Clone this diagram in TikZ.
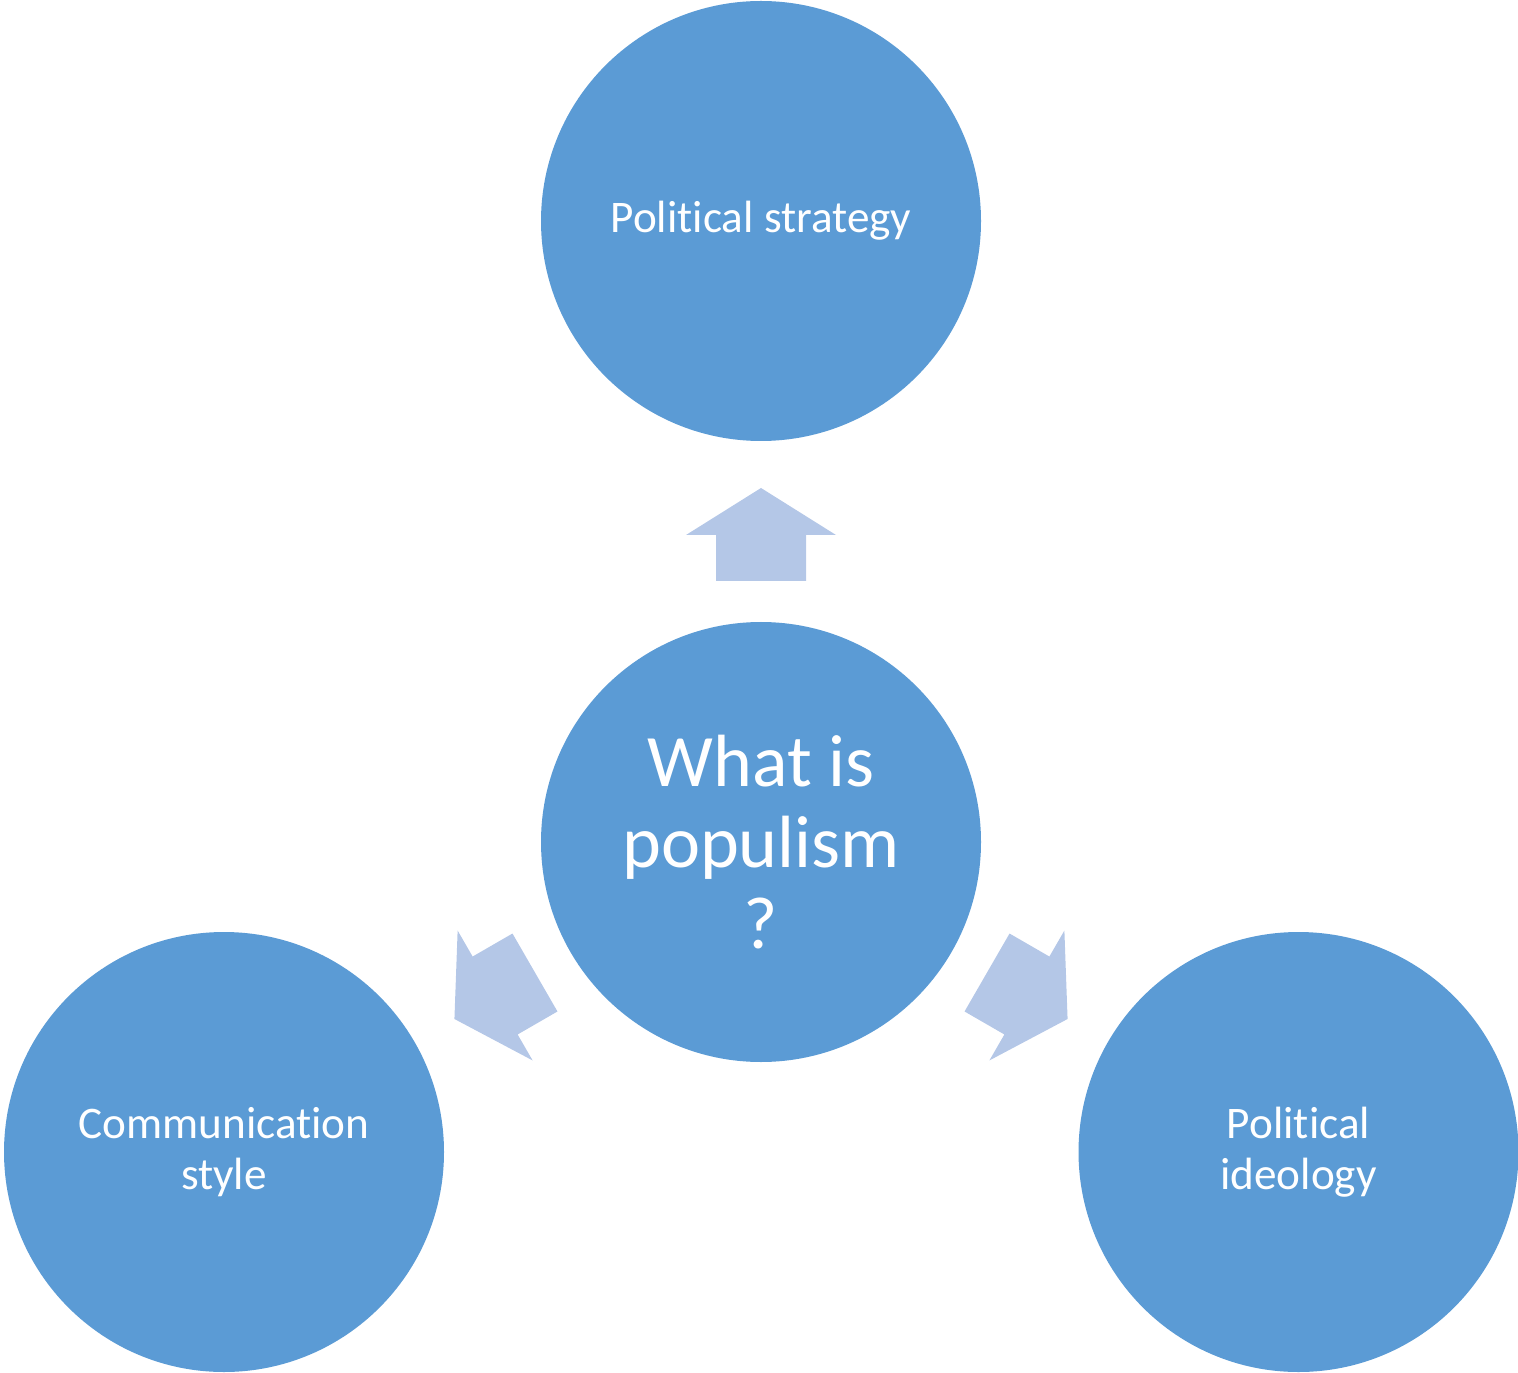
\documentclass[tikz,border=0pt]{standalone}
\usepackage{fontspec}
\setmainfont{Carlito}[RawFeature=-liga]
\definecolor{bubblefill}{HTML}{5B9BD5}
\definecolor{pointerfill}{HTML}{B4C7E7}
\begin{document}
\begin{tikzpicture}[x=0.5pt,y=0.5pt,
  bubble/.style={circle, fill=bubblefill, text=white, minimum size=220pt,
    inner sep=0pt, align=center, font=\fontsize{22.6}{25.5}\selectfont},
  blockarrow/.style={fill=pointerfill}]
\useasboundingbox (0,0) rectangle (1518,1372);
% the four circles
\node[bubble] (strategy) at (761,1151) {Political strategy};
\node[bubble, font=\fontsize{37}{40.5}\selectfont] (core) at (761,530) {What is\\populism\\?};
\node[bubble] (comm) at (224,220) {Communication\\style};
\node[bubble] (ideology) at (1298.5,220) {Political\\ideology};
% block arrows pointing outward from the central circle
\foreach \ang in {0,120,240} {
  \begin{scope}[shift={(core.center)}, rotate=\ang]
    \fill[blockarrow] (0,354) -- (75,307) -- (45,307) -- (45,261)
      -- (-45,261) -- (-45,307) -- (-75,307) -- cycle;
  \end{scope}
}
\end{tikzpicture}
\end{document}
